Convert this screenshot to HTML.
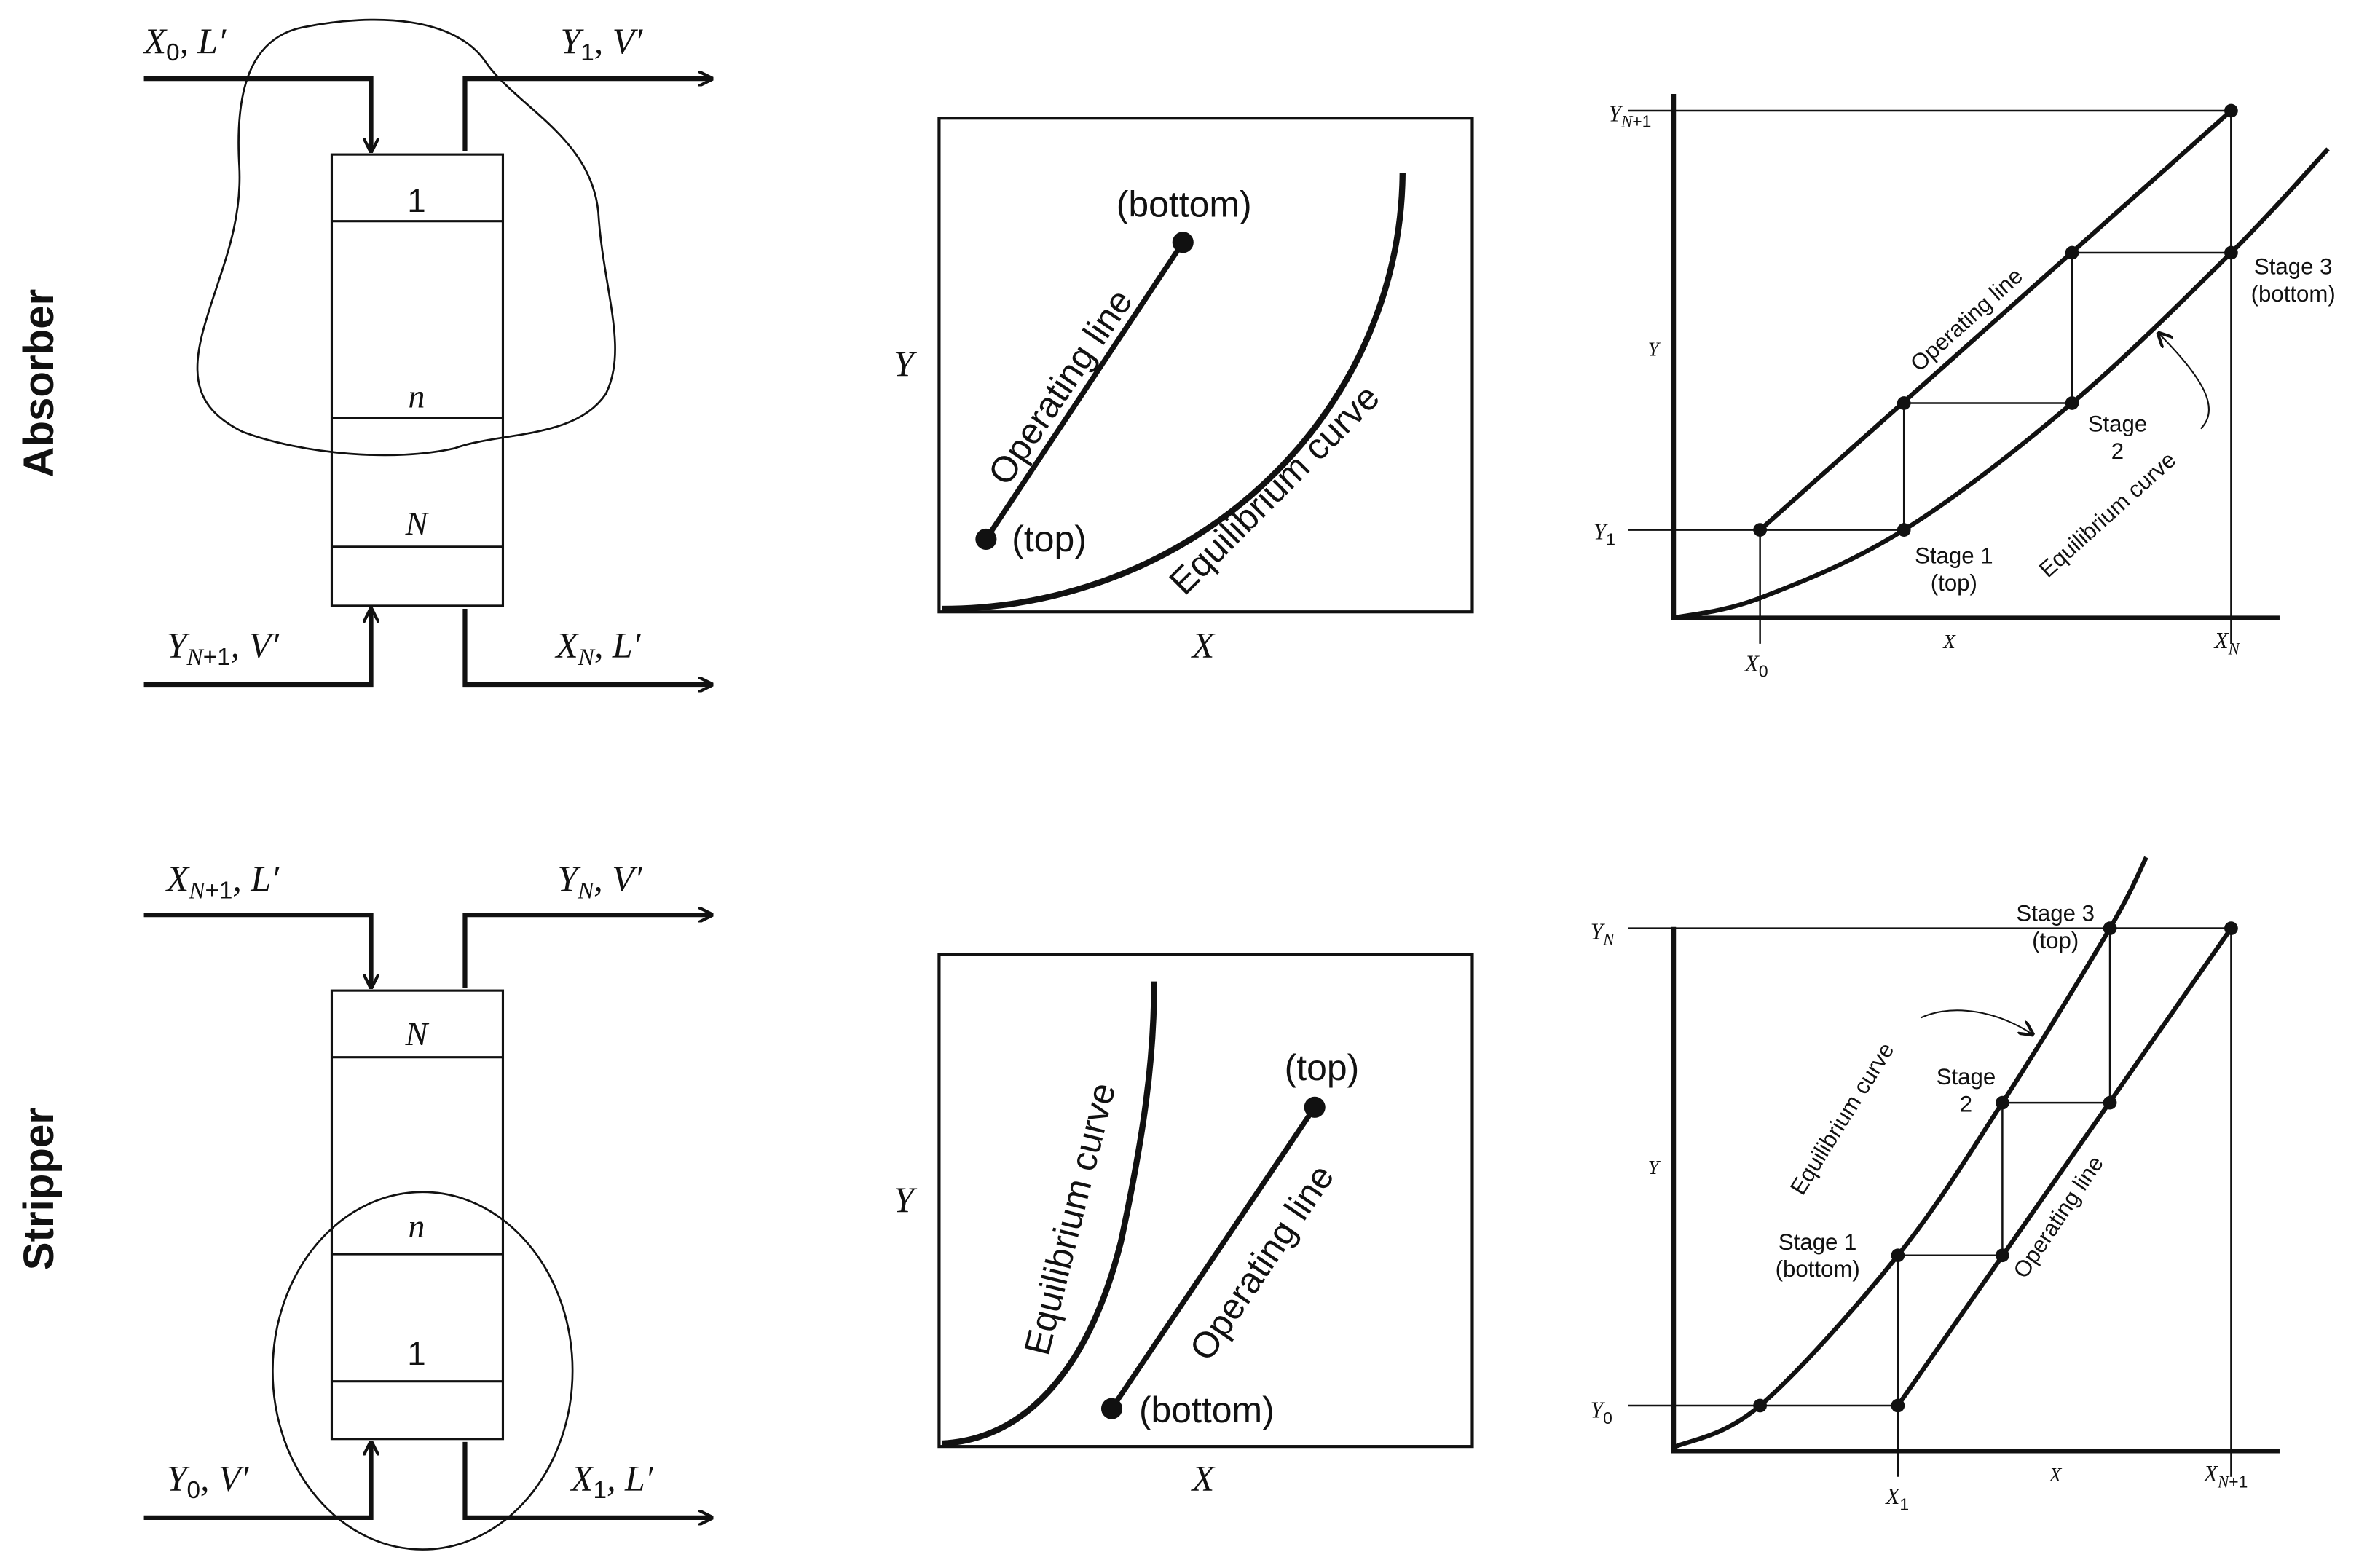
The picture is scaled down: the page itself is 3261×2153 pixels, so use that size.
<!DOCTYPE html>
<html><head><meta charset="utf-8"><style>
html,body{margin:0;padding:0;background:#fff;}
svg{display:block;}
text{font-family:"Liberation Sans",sans-serif;fill:#111;}
.it{font-family:"Liberation Serif",serif;font-style:italic;}
</style></head><body>
<svg id="s" width="3261" height="2153" viewBox="0 0 1568 1035" preserveAspectRatio="xMinYMin meet" xmlns="http://www.w3.org/2000/svg">
<defs><marker id="ar" markerWidth="10" markerHeight="10" refX="9" refY="5" orient="auto" markerUnits="userSpaceOnUse"><path d="M0,0 L10,5 L0,10" fill="none" stroke="#111" stroke-width="2"/></marker></defs>
<text x="0" y="0" transform="translate(35,253) rotate(-90)" text-anchor="middle" font-size="28" font-weight="bold">Absorber</text>
<text x="0" y="0" transform="translate(35,785) rotate(-90)" text-anchor="middle" font-size="28" font-weight="bold">Stripper</text>

<g stroke="#111" fill="none">
<path d="M95,52 H245 V100" stroke-width="3" marker-end="url(#ar)"/>
<path d="M307,100 V52 H470" stroke-width="3" marker-end="url(#ar)"/>
<path d="M95,452 H245 V402" stroke-width="3" marker-end="url(#ar)"/>
<path d="M307,402 V452 H470" stroke-width="3" marker-end="url(#ar)"/>
<rect x="219" y="102" width="113" height="298" stroke-width="1.5"/>
<path d="M219,146 H332 M219,276 H332 M219,361 H332" stroke-width="1.5"/>
<path d="M200,18 C250,8 300,12 320,40 C340,70 390,90 395,140 C398,190 415,230 400,260 C380,290 330,285 300,296 C260,305 200,300 160,285 C130,270 125,250 135,215 C145,180 160,150 158,110 C155,60 165,25 200,18 Z" stroke-width="1.3"/>
</g>
<text x="95" y="35" class="it" font-size="24">X<tspan font-size="16" dy="5" font-style="normal" font-family="Liberation Sans">0</tspan><tspan dy="-5">, L′</tspan></text>
<text x="370" y="35" class="it" font-size="24">Y<tspan font-size="16" dy="5" font-style="normal" font-family="Liberation Sans">1</tspan><tspan dy="-5">, V′</tspan></text>
<text x="110" y="434" class="it" font-size="24">Y<tspan font-size="16" dy="5">N</tspan><tspan font-size="16" font-style="normal" font-family="Liberation Sans">+1</tspan><tspan dy="-5">, V′</tspan></text>
<text x="367" y="434" class="it" font-size="24">X<tspan font-size="16" dy="5">N</tspan><tspan dy="-5">, L′</tspan></text>
<text x="275" y="140" font-size="22" text-anchor="middle">1</text>
<text x="275" y="269" font-size="22" text-anchor="middle" class="it">n</text>
<text x="275" y="353" font-size="22" text-anchor="middle" class="it">N</text>

<g stroke="#111" fill="none">
<path d="M95,604 H245 V652" stroke-width="3" marker-end="url(#ar)"/>
<path d="M307,652 V604 H470" stroke-width="3" marker-end="url(#ar)"/>
<path d="M95,1002 H245 V952" stroke-width="3" marker-end="url(#ar)"/>
<path d="M307,952 V1002 H470" stroke-width="3" marker-end="url(#ar)"/>
<rect x="219" y="654" width="113" height="296" stroke-width="1.5"/>
<path d="M219,698 H332 M219,828 H332 M219,912 H332" stroke-width="1.5"/>
<ellipse cx="279" cy="905" rx="99" ry="118" stroke-width="1.3"/>
</g>
<text x="110" y="588" class="it" font-size="24">X<tspan font-size="16" dy="5">N</tspan><tspan font-size="16" font-style="normal" font-family="Liberation Sans">+1</tspan><tspan dy="-5">, L′</tspan></text>
<text x="368" y="588" class="it" font-size="24">Y<tspan font-size="16" dy="5">N</tspan><tspan dy="-5">, V′</tspan></text>
<text x="110" y="984" class="it" font-size="24">Y<tspan font-size="16" dy="5" font-style="normal" font-family="Liberation Sans">0</tspan><tspan dy="-5">, V′</tspan></text>
<text x="377" y="984" class="it" font-size="24">X<tspan font-size="16" dy="5" font-style="normal" font-family="Liberation Sans">1</tspan><tspan dy="-5">, L′</tspan></text>
<text x="275" y="690" font-size="22" text-anchor="middle" class="it">N</text>
<text x="275" y="817" font-size="22" text-anchor="middle" class="it">n</text>
<text x="275" y="901" font-size="22" text-anchor="middle">1</text>

<g stroke="#111" fill="none">
<rect x="620" y="78" width="352" height="326" stroke-width="2"/>
<path d="M622,402 A304,290 0 0 0 926,114" stroke-width="4"/>
<path d="M651,356 L781,160" stroke-width="3.5"/>
</g>
<circle cx="651" cy="356" r="7" fill="#111"/><circle cx="781" cy="160" r="7" fill="#111"/>
<text x="668" y="364" font-size="24">(top)</text>
<text x="737" y="143" font-size="24">(bottom)</text>
<text transform="translate(665,322) rotate(-56)" font-size="24">Operating line</text>
<text transform="translate(782,394) rotate(-45)" font-size="24">Equilibrium curve</text>
<text x="590" y="248" class="it" font-size="24">Y</text>
<text x="787" y="434" class="it" font-size="24">X</text>

<g stroke="#111" fill="none">
<rect x="620" y="630" width="352" height="325" stroke-width="2"/>
<path d="M622,953 C680,950 720,900 740,820 C755,750 762,700 762,648" stroke-width="4"/>
<path d="M734,930 L868,731" stroke-width="3.5"/>
</g>
<circle cx="734" cy="930" r="7" fill="#111"/><circle cx="868" cy="731" r="7" fill="#111"/>
<text x="752" y="939" font-size="24">(bottom)</text>
<text x="848" y="713" font-size="24">(top)</text>
<text transform="translate(692,896) rotate(-76)" font-size="24">Equilibrium curve</text>
<text transform="translate(798,900) rotate(-56)" font-size="24">Operating line</text>
<text x="590" y="800" class="it" font-size="24">Y</text>
<text x="787" y="984" class="it" font-size="24">X</text>

<g id="charts"></g>
</svg>
<script>
const absOpX=[1.425,9.2], absOpY=[1.68,9.68];
const absEqX=[0,1.425,3.8,6.575,9.2,10.8], absEqY=[0,0.38,1.68,4.1,6.97,8.95];
const absStepX=[1.425,3.8,3.8,6.575,6.575,9.2,9.2], absStepY=[1.68,1.68,4.1,4.1,6.97,6.97,9.68];
const strOpX=[3.7,9.2], strOpY=[0.857,9.86];
const strEqX=[0,1.425,3.7,5.425,7.2,7.8], strEqY=[0.07,0.857,3.69,6.57,9.86,11.2];
const strStepX=[1.425,3.7,3.7,5.425,5.425,7.2,7.2,9.2], strStepY=[0.857,0.857,3.69,3.69,6.57,6.57,9.86,9.86];

const NS='http://www.w3.org/2000/svg', g=document.getElementById('charts');
function mk(t,a){const e=document.createElementNS(NS,t);for(const k in a)e.setAttribute(k,a[k]);g.appendChild(e);return e;}
function smooth(pts){let d='M'+pts[0][0]+','+pts[0][1];for(let i=0;i<pts.length-1;i++){const p0=pts[Math.max(0,i-1)],p1=pts[i],p2=pts[i+1],p3=pts[Math.min(pts.length-1,i+2)];d+=' C'+(p1[0]+(p2[0]-p0[0])/6)+','+(p1[1]+(p2[1]-p0[1])/6)+' '+(p2[0]-(p3[0]-p1[0])/6)+','+(p2[1]-(p3[1]-p1[1])/6)+' '+p2[0]+','+p2[1];}return d;}
function chart(name,x0,y0,sy,opX,opY,eqX,eqY,stX,stY){
  const X=v=>x0+v*40, Y=v=>y0-v*sy;
  let e=mk('path',{d:'M'+x0+','+(y0-346)+' V'+y0+' H'+(x0+400),stroke:'#111','stroke-width':3,fill:'none'});
  
  
  const yTop=Math.max.apply(null,opY), yBot=stY[0];
  const xL=stX[0], xR=opX[1];
  e=mk('path',{d:'M'+(x0-30)+','+Y(yTop)+' H'+X(xR)+' M'+(x0-30)+','+Y(yBot)+' H'+X(xL)+' M'+X(name==='absorber'?xL:opX[0])+','+Y(name==='absorber'?yBot:opY[0])+' V'+(y0+17)+' M'+X(xR)+','+Y(yTop)+' V'+(y0+17),stroke:'#111','stroke-width':1.2,fill:'none'});
  
  
  e=mk('path',{d:'M'+X(opX[0])+','+Y(opY[0])+' L'+X(opX[1])+','+Y(opY[1]),stroke:'#111','stroke-width':3,fill:'none'});
  
  
  e=mk('path',{d:smooth(eqX.map((v,i)=>[X(v),Y(eqY[i])])),stroke:'#111','stroke-width':3,fill:'none'});
  
  
  e=mk('path',{d:'M'+stX.map((v,i)=>X(v)+','+Y(stY[i])).join(' L'),stroke:'#111','stroke-width':1.2,fill:'none'});
  
  
  stX.forEach((v,i)=>{const c=mk('circle',{cx:X(v),cy:Y(stY[i]),r:4.5,fill:'#111'});
    
    });
}
chart('absorber',1105,408,34.6,absOpX,absOpY,absEqX,absEqY,absStepX,absStepY);
chart('stripper',1105,958,35,strOpX,strOpY,strEqX,strEqY,strStepX,strStepY);
function t(x,y,s,opt){const e=mk('text',Object.assign({x:x,y:y,'font-size':15},opt||{}));e.innerHTML=s;return e;}
t(1062,80,'Y<tspan font-size="11" dy="4">N</tspan><tspan font-size="11" font-style="normal" font-family="Liberation Sans">+1</tspan>',{class:'it'});
t(1052,356,'Y<tspan font-size="11" dy="4" font-style="normal" font-family="Liberation Sans">1</tspan>',{class:'it'});
t(1088,235,'Y',{class:'it','font-size':13});
t(1283,428,'X',{class:'it','font-size':13});
t(1152,443,'X<tspan font-size="11" dy="4" font-style="normal" font-family="Liberation Sans">0</tspan>',{class:'it'});
t(1462,428,'X<tspan font-size="11" dy="4">N</tspan>',{class:'it'});
t(1290,372,'Stage 1',{'text-anchor':'middle'});t(1290,390,'(top)',{'text-anchor':'middle'});
t(1398,285,'Stage',{'text-anchor':'middle'});t(1398,303,'2',{'text-anchor':'middle'});
t(1514,181,'Stage 3',{'text-anchor':'middle'});t(1514,199,'(bottom)',{'text-anchor':'middle'});
t(0,0,'Operating line',{transform:'translate(1267,246) rotate(-42)'});
t(0,0,'Equilibrium curve',{transform:'translate(1352,382) rotate(-42)'});
mk('path',{d:'M1453,283 C1466,270 1455,250 1425,220',stroke:'#111','stroke-width':1,fill:'none','marker-end':'url(#ar)'});
t(1050,620,'Y<tspan font-size="11" dy="4">N</tspan>',{class:'it'});
t(1050,936,'Y<tspan font-size="11" dy="4" font-style="normal" font-family="Liberation Sans">0</tspan>',{class:'it'});
t(1088,775,'Y',{class:'it','font-size':13});
t(1353,978,'X',{class:'it','font-size':13});
t(1245,993,'X<tspan font-size="11" dy="4" font-style="normal" font-family="Liberation Sans">1</tspan>',{class:'it'});
t(1455,978,'X<tspan font-size="11" dy="4">N</tspan><tspan font-size="11" font-style="normal" font-family="Liberation Sans">+1</tspan>',{class:'it'});
t(1200,825,'Stage 1',{'text-anchor':'middle'});t(1200,843,'(bottom)',{'text-anchor':'middle'});
t(1298,716,'Stage',{'text-anchor':'middle'});t(1298,734,'2',{'text-anchor':'middle'});
t(1357,608,'Stage 3',{'text-anchor':'middle'});t(1357,626,'(top)',{'text-anchor':'middle'});
t(0,0,'Equilibrium curve',{transform:'translate(1190,790) rotate(-58)'});
t(0,0,'Operating line',{transform:'translate(1337,845) rotate(-56)'});
mk('path',{d:'M1268,672 C1290,662 1320,668 1342,683',stroke:'#111','stroke-width':1,fill:'none','marker-end':'url(#ar)'});
</script>
</body></html>
